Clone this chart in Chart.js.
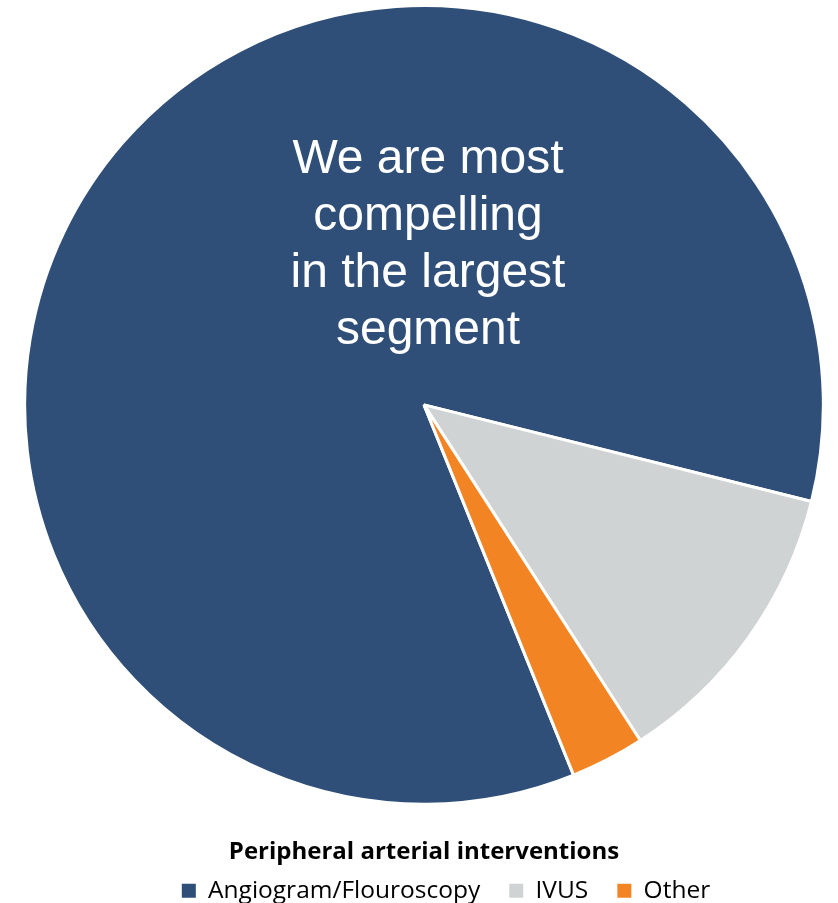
<!DOCTYPE html>
<html lang="en">
<head>
  <meta charset="UTF-8" />
  <title>Peripheral arterial interventions</title>
  <script src="https://cdn.jsdelivr.net/npm/chart.js"></script>
  <style>
    html, body { margin: 0; padding: 0; background: #fff; }
    .chart-box { width: 838px; height: 903px; }
  </style>
</head>
<body>
  <div class="chart-box">
    <canvas id="pieChart"></canvas>
  </div>

  <script>
    const categories = ['Angiogram/Flouroscopy', 'IVUS', 'Other'];
    const shares = [85, 12, 3];
    const sliceColors = ['#2f4e78', '#d0d3d4', '#f38423'];
    const calloutLines = ['We are most', 'compelling', 'in the largest', 'segment'];

    // white callout text inside the big slice
    const calloutPlugin = {
      id: 'callout',
      afterLayout(chart) {
        // legend sits a bit right of centre in the original
        chart.legend.left += 22;
        chart.legend.right += 22;
      },
      afterDatasetsDraw(chart) {
        const ctx = chart.ctx;
        const arc = chart.getDatasetMeta(0).data[0];
        ctx.save();
        ctx.fillStyle = '#ffffff';
        ctx.font = '48px "Liberation Sans", Arial, sans-serif';
        ctx.textAlign = 'center';
        ctx.textBaseline = 'middle';
        calloutLines.forEach((line, i) => {
          ctx.fillText(line, arc.x + 4, arc.y - 245 + i * 57);
        });
        ctx.restore();
      }
    };

    const ctx = document.getElementById('pieChart').getContext('2d');
    new Chart(ctx, {
      type: 'pie',
      data: {
        labels: categories,
        datasets: [{
          data: shares,
          backgroundColor: sliceColors,
          borderColor: '#ffffff',
          borderWidth: 3
        }]
      },
      options: {
        responsive: true,
        maintainAspectRatio: false,
        animation: false,
        rotation: 158,
        layout: { padding: { top: 4, bottom: -10, left: 10 } },
        plugins: {
          tooltip: { enabled: false },
          title: {
            display: true,
            position: 'bottom',
            weight: 0,
            text: 'Peripheral arterial interventions',
            color: '#000000',
            font: { family: '"Open Sans", sans-serif', size: 24, weight: 'bold' },
            padding: { top: 32, bottom: 2 }
          },
          legend: {
            display: true,
            position: 'bottom',
            weight: 1000,
            labels: {
              color: '#595959',
              font: { family: '"Open Sans", sans-serif', size: 24.5 },
              boxWidth: 14,
              boxHeight: 14,
              padding: 10,
              generateLabels(chart) {
                return categories.map((c, i) => ({
                  text: i < categories.length - 1 ? c + '   ' : c,
                  fillStyle: sliceColors[i],
                  strokeStyle: sliceColors[i],
                  lineWidth: 0,
                  index: i
                }));
              }
            }
          }
        }
      },
      plugins: [calloutPlugin]
    });
  </script>
</body>
</html>
